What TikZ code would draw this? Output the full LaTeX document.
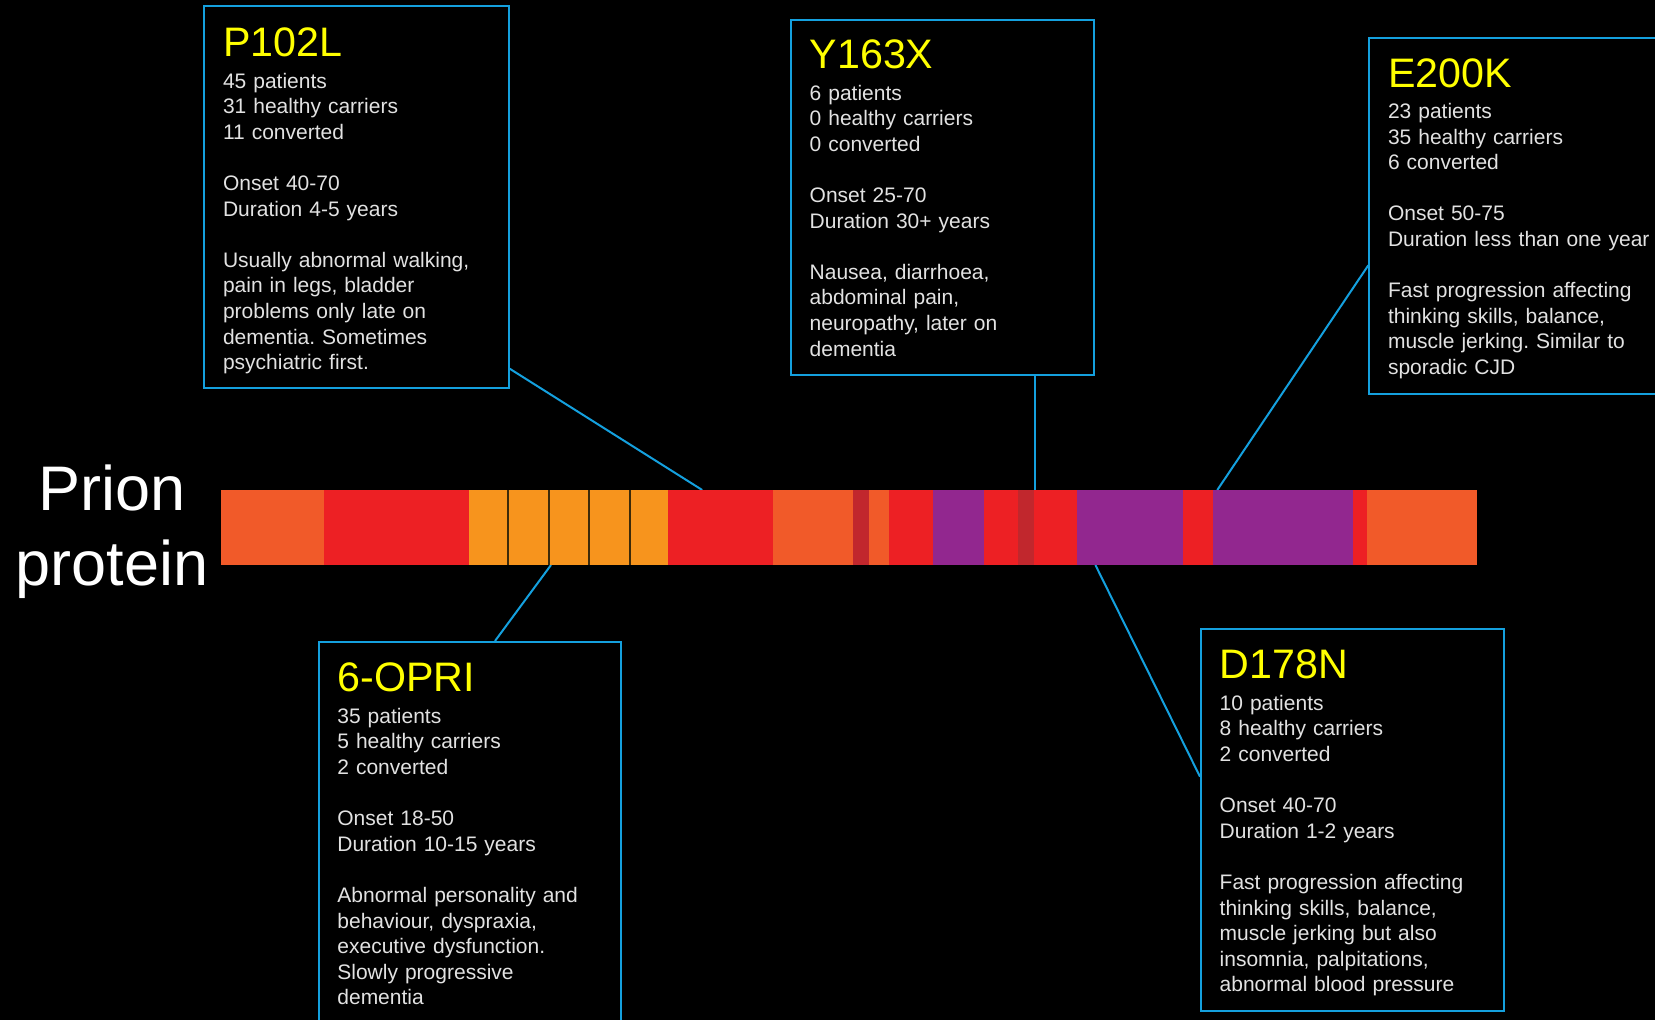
\documentclass[tikz,border=0pt]{standalone}
\usepackage{fontspec}
\setmainfont{Liberation Sans}
\frenchspacing

\definecolor{barorange}{RGB}{241,90,41}
\definecolor{barred}{RGB}{237,32,36}
\definecolor{barlight}{RGB}{247,148,29}
\definecolor{bardark}{RGB}{193,39,45}
\definecolor{barpurple}{RGB}{146,39,143}
\definecolor{divbrown}{RGB}{60,42,10}
\definecolor{linkblue}{RGB}{20,160,222}
\definecolor{titleyellow}{RGB}{255,255,0}
\definecolor{bodygrey}{RGB}{226,226,226}

\tikzset{
  mutbox/.style = {draw = linkblue, line width = 2pt, fill = black, inner sep = 0pt, anchor = north west},
  mutinfo/.style = {text = bodygrey, align = left, text width = 300pt, inner sep = 0pt, anchor = north west,
    font = \fontsize{21}{25.6}\selectfont},
  link/.style = {draw = linkblue, line width = 2pt}
}
\newcommand{\muttitle}[1]{{\color{titleyellow}\fontsize{41.2}{25.6}\selectfont #1}\\[5.7pt]}

\begin{document}
\begin{tikzpicture} [x = 1pt, y = -1pt]
\fill[black] (0, 0) rectangle (1655, 1020);
\useasboundingbox (0, 0) rectangle (1655, 1020);
\clip (0, 0) rectangle (1655, 1020);

\node[text = white, align = center, inner sep = 0pt, anchor = north, font = \fontsize{63}{75}\selectfont] (prion) at (112, 465) {Prion\\protein};

\node[mutbox, minimum width = 304.4, minimum height = 382] (p102l) at (203.3, 5.3) {};
\node[mutinfo] (p102ltxt) at ([xshift = 19.5pt, yshift = -22.5pt]p102l.north west)
{\muttitle{P102L}45 patients\\31 healthy carriers\\11 converted\\[25.6pt]
Onset 40-70\\Duration 4-5 years\\[25.6pt]
Usually abnormal walking,\\pain in legs, bladder\\problems only late on\\dementia. Sometimes\\psychiatric first.};

\node[mutbox, minimum width = 303.3, minimum height = 355.3] (y163x) at (790, 19) {};
\node[mutinfo] (y163xtxt) at ([xshift = 19.5pt, yshift = -20.8pt]y163x.north west)
{\muttitle{Y163X}6 patients\\0 healthy carriers\\0 converted\\[25.6pt]
Onset 25-70\\Duration 30+ years\\[25.6pt]
Nausea, diarrhoea,\\abdominal pain,\\neuropathy, later on\\dementia};

\node[mutbox, minimum width = 330, minimum height = 356] (e200k) at (1368.3, 36.7) {};
\node[mutinfo] (e200ktxt) at ([xshift = 19.5pt, yshift = -21.6pt]e200k.north west)
{\muttitle{E200K}23 patients\\35 healthy carriers\\6 converted\\[25.6pt]
Onset 50-75\\Duration less than one year\\[25.6pt]
Fast progression affecting\\thinking skills, balance,\\muscle jerking. Similar to\\sporadic CJD};

\node[mutbox, minimum width = 302.3, minimum height = 420] (opri) at (317.7, 641) {};
\node[mutinfo] (opritxt) at ([xshift = 19.5pt, yshift = -22pt]opri.north west)
{\muttitle{6-OPRI}35 patients\\5 healthy carriers\\2 converted\\[25.6pt]
Onset 18-50\\Duration 10-15 years\\[25.6pt]
Abnormal personality and\\behaviour, dyspraxia,\\executive dysfunction.\\Slowly progressive\\dementia};

\node[mutbox, minimum width = 303.3, minimum height = 381.7] (d178n) at (1200, 628.3) {};
\node[mutinfo] (d178ntxt) at ([xshift = 19.5pt, yshift = -21.7pt]d178n.north west)
{\muttitle{D178N}10 patients\\8 healthy carriers\\2 converted\\[25.6pt]
Onset 40-70\\Duration 1-2 years\\[25.6pt]
Fast progression affecting\\thinking skills, balance,\\muscle jerking but also\\insomnia, palpitations,\\abnormal blood pressure};

% where the mutations sit on the protein
\coordinate (pin1) at (702.2, 490);
\coordinate (pin2) at (551, 565);
\coordinate (pin3) at (1035.3, 490);
\coordinate (pin4) at (1095.4, 565);
\coordinate (pin5) at (1217.3, 490);

\draw[link] ([yshift = 20.6pt]p102l.south east) -- (pin1);
\draw[link] (pin2) -- ([xshift = 177.3pt]opri.north west);
\draw[link] (pin3 |- y163x.south) -- (pin3);
\draw[link] (pin4) -- ([yshift = -148.4pt]d178n.north west);
\draw[link] ([yshift = 129.4pt]e200k.south west) -- (pin5);

% protein bar
\fill[barorange] (221.0, 490) rectangle (324.4, 565);
\fill[barred] (324.4, 490) rectangle (469.3, 565);
\fill[barlight] (469.3, 490) rectangle (667.8, 565);
\fill[barred] (667.8, 490) rectangle (773.0, 565);
\fill[barorange] (773.0, 490) rectangle (853.4, 565);
\fill[bardark] (853.4, 490) rectangle (868.7, 565);
\fill[barorange] (868.7, 490) rectangle (888.7, 565);
\fill[barred] (888.7, 490) rectangle (932.9, 565);
\fill[barpurple] (932.9, 490) rectangle (983.5, 565);
\fill[barred] (983.5, 490) rectangle (1017.9, 565);
\fill[bardark] (1017.9, 490) rectangle (1033.7, 565);
\fill[barred] (1033.7, 490) rectangle (1077.2, 565);
\fill[barpurple] (1077.2, 490) rectangle (1182.9, 565);
\fill[barred] (1182.9, 490) rectangle (1213.2, 565);
\fill[barpurple] (1213.2, 490) rectangle (1352.5, 565);
\fill[barred] (1352.5, 490) rectangle (1367.4, 565);
\fill[barorange] (1367.4, 490) rectangle (1477.3, 565);

% octapeptide repeats
\draw[divbrown, line width = 2pt] (508.4, 490) -- (508.4, 565);
\draw[divbrown, line width = 2pt] (549.3, 490) -- (549.3, 565);
\draw[divbrown, line width = 2pt] (589.0, 490) -- (589.0, 565);
\draw[divbrown, line width = 2pt] (629.5, 490) -- (629.5, 565);
\end{tikzpicture}
\end{document}
